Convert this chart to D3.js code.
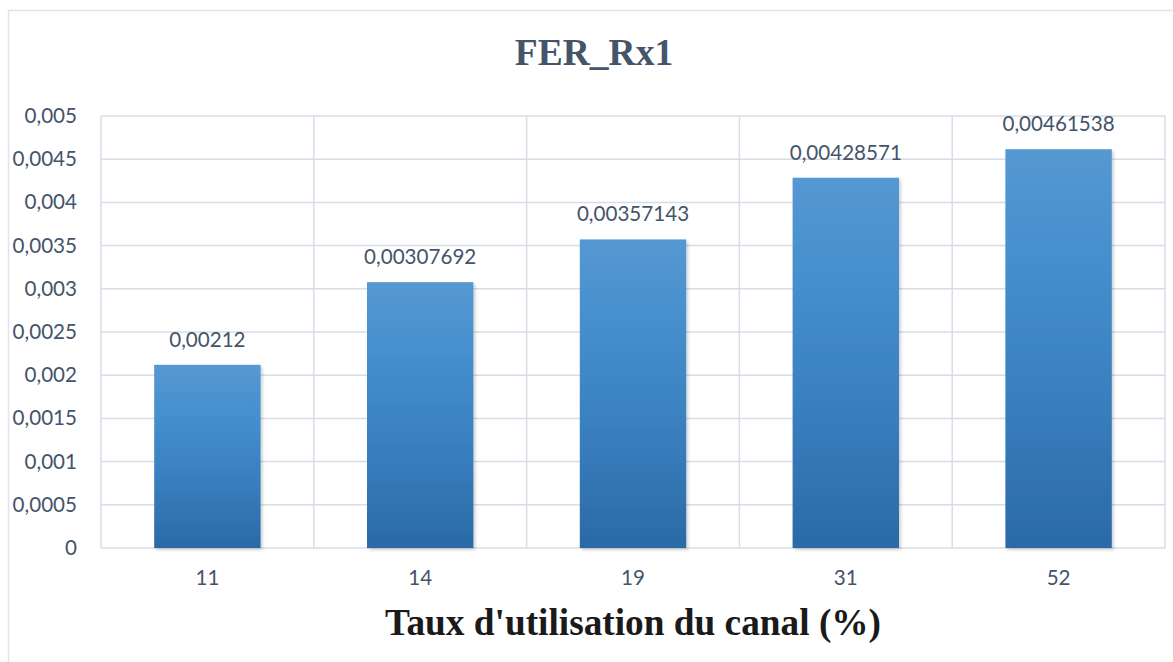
<!DOCTYPE html>
<html>
<head>
<meta charset="utf-8">
<script src="https://cdn.jsdelivr.net/npm/d3@7/dist/d3.min.js"></script>
<style>
  html, body { margin: 0; padding: 0; background: #fff; }
  svg { display: block; }
</style>
</head>
<body>
<svg id="chart" width="1173" height="662"></svg>
<script>
// Channel utilisation rate (%) and measured frame error rate for Rx1
const categories = ["11", "14", "19", "31", "52"];
const values = [0.00212, 0.00307692, 0.00357143, 0.00428571, 0.00461538];
const valueLabels = ["0,00212", "0,00307692", "0,00357143", "0,00428571", "0,00461538"];
const yTicks = [0, 0.0005, 0.001, 0.0015, 0.002, 0.0025, 0.003, 0.0035, 0.004, 0.0045, 0.005];
const yTickLabels = ["0", "0,0005", "0,001", "0,0015", "0,002", "0,0025", "0,003", "0,0035", "0,004", "0,0045", "0,005"];

const W = 1173, H = 662;
const m = { left: 101, right: 1165, top: 116, bottom: 548 };
const textFont = "Lato, 'Open Sans', sans-serif";
const textSize = 20.6;
const textColor = "#44546a";
const gridColor = "#d8dce6";

const svg = d3.select("#chart");

// bar fill: lighter at the top, deeper blue at the base
const defs = svg.append("defs");
const grad = defs.append("linearGradient")
  .attr("id", "barFill").attr("x1", 0).attr("y1", 0).attr("x2", 0).attr("y2", 1);
[["0%", "#5598d2"], ["30%", "#448ecd"], ["60%", "#3a80c0"], ["100%", "#2a6aa6"]]
  .forEach(([o, c]) => grad.append("stop").attr("offset", o).attr("stop-color", c));
const shadow = defs.append("filter").attr("id", "barShadow")
  .attr("x", "-10%").attr("y", "-10%").attr("width", "125%").attr("height", "125%");
shadow.append("feDropShadow").attr("dx", 2).attr("dy", 2).attr("stdDeviation", 1.5)
  .attr("flood-color", "#000").attr("flood-opacity", 0.18);

// outer chart frame
svg.append("rect")
  .attr("x", 8.5).attr("y", 10.5).attr("width", W + 10).attr("height", H + 10)
  .attr("fill", "#fff").attr("stroke", "#dfe4ee").attr("stroke-width", 1.5);

const x = d3.scaleBand().domain(categories).range([m.left, m.right]).paddingInner(0.5).paddingOuter(0.25);
const xEdges = d3.scaleLinear().domain([0, categories.length]).range([m.left, m.right]);
const y = d3.scaleLinear().domain([0, 0.005]).range([m.bottom, m.top]);

// horizontal gridlines
svg.append("g").selectAll("line").data(yTicks).join("line")
  .attr("x1", m.left).attr("x2", m.right)
  .attr("y1", d => y(d)).attr("y2", d => y(d))
  .attr("stroke", gridColor).attr("stroke-width", 1.5);

// vertical gridlines at category boundaries
svg.append("g").selectAll("line").data(d3.range(categories.length + 1)).join("line")
  .attr("x1", i => xEdges(i)).attr("x2", i => xEdges(i))
  .attr("y1", m.top).attr("y2", m.bottom)
  .attr("stroke", gridColor).attr("stroke-width", 1.5);

// y axis tick labels
const yAxis = d3.axisLeft(y).tickValues(yTicks)
  .tickFormat((d, i) => yTickLabels[i]).tickSize(0).tickPadding(24);
const gy = svg.append("g").attr("transform", `translate(${m.left},0)`).call(yAxis);
gy.select(".domain").remove();
gy.selectAll("text").attr("font-family", textFont).attr("font-size", textSize)
  .attr("fill", textColor);

// x axis tick labels
const xAxis = d3.axisBottom(x).tickSize(0).tickPadding(22);
const gx = svg.append("g").attr("transform", `translate(0,${m.bottom})`).call(xAxis);
gx.select(".domain").remove();
gx.selectAll("text").attr("font-family", textFont).attr("font-size", textSize)
  .attr("fill", textColor);

// bars
svg.append("g").selectAll("rect").data(values).join("rect")
  .attr("x", (d, i) => x(categories[i]))
  .attr("y", d => y(d))
  .attr("width", x.bandwidth())
  .attr("height", d => y(0) - y(d))
  .attr("fill", "url(#barFill)")
  .attr("filter", "url(#barShadow)");

// value labels above bars
svg.append("g").selectAll("text").data(values).join("text")
  .attr("x", (d, i) => x(categories[i]) + x.bandwidth() / 2)
  .attr("y", d => y(d) - 18)
  .attr("text-anchor", "middle")
  .attr("font-family", textFont).attr("font-size", textSize)
  .attr("fill", textColor)
  .text((d, i) => valueLabels[i]);

// chart title
svg.append("text")
  .attr("x", 594).attr("y", 65).attr("text-anchor", "middle")
  .attr("font-family", "'Liberation Serif', 'Times New Roman', serif")
  .attr("font-weight", "bold").attr("font-size", 37.5)
  .attr("fill", "#44546a")
  .text("FER_Rx1");

// x axis title
svg.append("text")
  .attr("x", 633).attr("y", 635).attr("text-anchor", "middle")
  .attr("font-family", "'Liberation Serif', 'Times New Roman', serif")
  .attr("font-weight", "bold").attr("font-size", 37.3)
  .attr("fill", "#1a1a1a")
  .text("Taux d'utilisation du canal (%)");
</script>
</body>
</html>
